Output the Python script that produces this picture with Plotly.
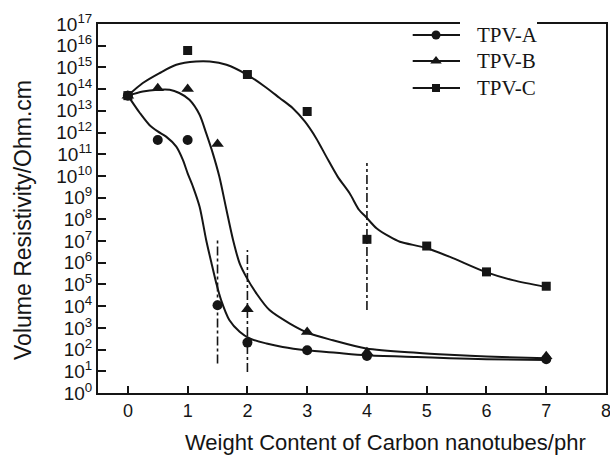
import plotly.graph_objects as go

# ---- measured data points ----
x_a = [0, 0.5, 1, 1.5, 2, 3, 4, 7]
y_a = [5e13, 4.5e11, 4.5e11, 1.1e4, 2.1e2, 9.3e1, 5.1e1, 3.6e1]

x_b = [0, 0.5, 1, 1.5, 2, 3, 4, 7]
y_b = [5e13, 1.1e14, 1.0e14, 3.0e11, 7.2e3, 6.5e2, 7.5e1, 4.9e1]

x_c = [0, 1, 2, 3, 4, 5, 6, 7]
y_c = [5e13, 6.0e15, 4.7e14, 9.3e12, 1.2e7, 5.9e6, 3.8e5, 8.3e4]

# ---- fitted curves (x, log10 value) ----
curve_a_x = [0, 0.20, 0.36, 0.50, 0.64, 0.81, 0.92, 1.00, 1.09, 1.20, 1.31, 1.40, 1.48, 1.56,
             1.70, 1.87, 2.04, 2.32, 2.59, 2.98, 3.49, 3.99, 4.83, 5.38, 6.00, 7.00]
curve_a_log = [13.70, 12.90, 12.35, 12.05, 11.81, 11.35, 10.74, 10.12, 9.50, 8.58, 7.05, 5.97, 5.05, 4.28,
               3.35, 2.82, 2.51, 2.28, 2.12, 1.97, 1.85, 1.74, 1.66, 1.60, 1.56, 1.52]

curve_b_x = [0, 0.25, 0.50, 0.70, 0.86, 1.03, 1.20, 1.31, 1.42, 1.53, 1.65, 1.76, 1.87, 1.98,
             2.15, 2.37, 2.71, 3.04, 3.43, 3.99, 4.83, 5.38, 6.00, 7.00]
curve_b_log = [13.70, 13.89, 13.97, 13.97, 13.82, 13.51, 12.82, 11.97, 11.05, 9.97, 8.43, 7.05, 5.97, 5.35,
               4.59, 3.82, 3.20, 2.74, 2.43, 2.05, 1.85, 1.76, 1.68, 1.60]

curve_c_x = [0, 0.25, 0.53, 0.81, 1.14, 1.37, 1.65, 1.99, 2.30, 2.54, 2.76, 2.96, 3.15, 3.32,
             3.51, 3.71, 3.87, 3.98, 4.16, 4.38, 4.55, 4.98, 5.38, 5.98, 6.44, 6.98]
curve_c_log = [13.70, 14.28, 14.74, 15.12, 15.27, 15.27, 15.12, 14.67, 14.10, 13.59, 13.12, 12.51, 11.74, 10.89,
               9.97, 9.20, 8.43, 8.12, 7.59, 7.20, 6.97, 6.69, 6.28, 5.58, 5.20, 4.89]

# ---- dash-dot vertical markers ----
vline_x = [1.5, 2, 4]
vline_top = [1.2e7, 3.9e6, 3.9e10]
vline_bottom = [23, 9.3, 6.6e3]

names = ["TPV-A", "TPV-B", "TPV-C"]
symbols = ["circle", "triangle-up", "square"]
marker_sizes = [10, 11, 9]

# ---- axis ticks ----
x_ticks = [0, 1, 2, 3, 4, 5, 6, 7, 8]
y_exponents = list(range(0, 18))
y_tickvals = [10 ** e for e in y_exponents]
y_ticktext = ["10<sup>%d</sup>" % e for e in y_exponents]

# ---- legend layout (paper fractions) ----
leg_line_x0, leg_line_x1, leg_marker_x, leg_text_x = 0.6195, 0.7126, 0.6654, 0.7421
leg_rows_y = [0.9702, 0.8997, 0.8266]

INK = "#151515"
fig = go.Figure()

curves = [(curve_a_x, curve_a_log), (curve_b_x, curve_b_log), (curve_c_x, curve_c_log)]
points = [(x_a, y_a), (x_b, y_b), (x_c, y_c)]

for (cx, cl) in curves:
    fig.add_trace(go.Scatter(x=cx, y=[10 ** v for v in cl], mode="lines",
                             line=dict(color=INK, width=2, shape="spline", smoothing=0.8),
                             showlegend=False, hoverinfo="skip"))

for i, (px, py) in enumerate(points):
    fig.add_trace(go.Scatter(x=px, y=py, mode="markers",
                             marker=dict(symbol=symbols[i], size=marker_sizes[i], color=INK),
                             showlegend=False, name=names[i]))

for vx, vt, vb in zip(vline_x, vline_top, vline_bottom):
    fig.add_trace(go.Scatter(x=[vx, vx], y=[vb, vt], mode="lines",
                             line=dict(color=INK, width=1.6, dash="dashdot"),
                             showlegend=False, hoverinfo="skip"))

# hand-made legend: sample markers on an overlay axis spanning [0, 1]
for i in range(3):
    fig.add_trace(go.Scatter(x=[leg_marker_x], y=[leg_rows_y[i]], xaxis="x2", yaxis="y2",
                             mode="markers", showlegend=False, hoverinfo="skip",
                             marker=dict(symbol=symbols[i], size=marker_sizes[i] - 1, color=INK)))

shapes = []
annotations = []
for i in range(3):
    shapes.append(dict(type="line", xref="paper", yref="paper",
                       x0=leg_line_x0, x1=leg_line_x1, y0=leg_rows_y[i], y1=leg_rows_y[i],
                       line=dict(color=INK, width=2)))
    annotations.append(dict(text=names[i], xref="paper", yref="paper",
                            x=leg_text_x, y=leg_rows_y[i], xanchor="left", yanchor="middle",
                            showarrow=False,
                            font=dict(family="Liberation Serif, DejaVu Serif, serif", size=21, color=INK)))
# gap in the top frame behind the first legend label
shapes.append(dict(type="rect", xref="paper", yref="paper", layer="above",
                   x0=0.7126, x1=0.8642, y0=0.995, y1=1.008,
                   line=dict(width=0), fillcolor="white"))

annotations += [
    dict(text="Volume Resistivity/Ohm.cm", xref="paper", yref="paper",
         x=-0.1476, y=0.469, xanchor="center", yanchor="middle", textangle=-90,
         showarrow=False, font=dict(size=23)),
    dict(text="Weight Content of Carbon nanotubes/phr", xref="paper", yref="paper",
         x=0.565, y=-0.095, xanchor="center", yanchor="top",
         showarrow=False, font=dict(size=22)),
]

fig.update_layout(
    width=610, height=459,
    margin=dict(l=98, r=4, t=24, b=66),
    paper_bgcolor="white", plot_bgcolor="white",
    font=dict(family="Liberation Sans, Arial, sans-serif", color=INK),
    showlegend=False,
    hovermode=False,
    xaxis=dict(range=[-0.5, 8], tickvals=x_ticks, ticks="inside", ticklen=7, tickwidth=2,
               tickcolor=INK, showline=True, linecolor=INK, linewidth=2, mirror=True,
               showgrid=False, zeroline=False, tickfont=dict(size=18), automargin=False,
               ticklabeloverflow="allow"),
    yaxis=dict(type="log", range=[0, 17], tickvals=y_tickvals, ticktext=y_ticktext,
               ticks="inside", ticklen=8, tickwidth=2, tickcolor=INK,
               showline=True, linecolor=INK, linewidth=2, mirror=True,
               showgrid=False, zeroline=False, tickfont=dict(size=19), automargin=False),
    xaxis2=dict(overlaying="x", range=[0, 1], visible=False, fixedrange=True),
    yaxis2=dict(overlaying="y", range=[0, 1], visible=False, fixedrange=True),
    shapes=shapes,
    annotations=annotations,
)

fig.write_html("out.html", config={"displayModeBar": False},
               post_script="document.body.style.margin='0';document.body.style.padding='0';")
